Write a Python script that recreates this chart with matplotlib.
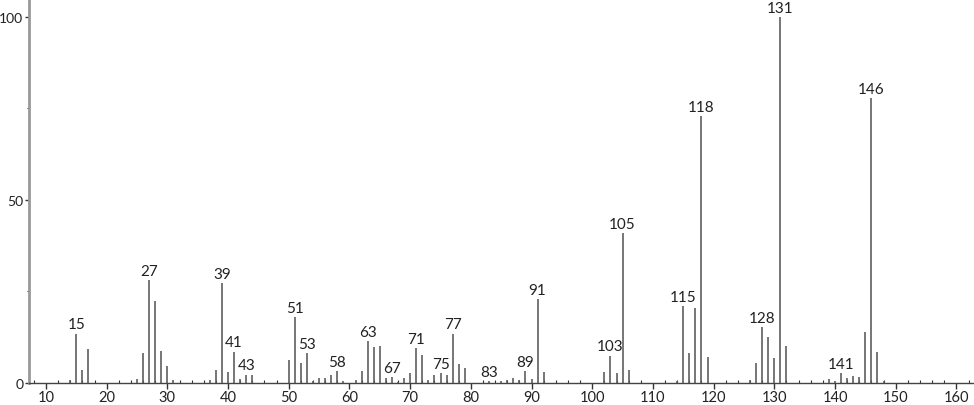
import matplotlib
matplotlib.use("Agg")
import matplotlib.pyplot as plt
from matplotlib.ticker import MultipleLocator

plt.rcParams['font.family'] = ['Lato', 'DejaVu Sans']

mz = [14, 15, 16, 17, 25, 26, 27, 28, 29, 30, 31, 37, 38, 39, 40, 41, 42, 43, 44,
      50, 51, 52, 53, 54, 55, 56, 57, 58, 59, 61, 62, 63, 64, 65, 66, 67, 68, 69, 70,
      71, 72, 73, 74, 75, 76, 77, 78, 79, 83, 85, 86, 87, 88, 89, 90, 91, 92,
      102, 103, 104, 105, 106, 114, 115, 116, 117, 118, 119,
      126, 127, 128, 129, 130, 131, 132, 139, 140, 141, 142, 143, 144, 145, 146, 147, 148]
intensity = [0.9, 13.5, 3.5, 9.2, 1.2, 8.2, 28.2, 22.3, 8.8, 4.7, 0.8, 0.9, 3.5, 27.2, 3.1, 8.6, 1.0, 2.3, 2.3,
             6.4, 17.9, 5.6, 8.2, 0.6, 1.5, 1.5, 2.3, 3.2, 0.5, 0.8, 3.4, 11.4, 9.7, 10.2, 1.5, 1.6, 0.4, 1.5, 2.6,
             9.5, 7.6, 0.9, 2.3, 2.6, 2.3, 13.5, 5.1, 4.2, 0.5, 0.6, 0.8, 1.5, 0.8, 3.3, 1.2, 22.9, 3.1,
             3.1, 7.5, 2.6, 41.0, 3.5, 0.5, 21.0, 8.2, 20.6, 73.0, 7.0,
             0.8, 5.6, 15.3, 12.7, 6.7, 100.0, 10.2, 1.2, 0.5, 2.6, 1.5, 1.8, 1.6, 13.8, 77.9, 8.6, 0.5]
labeled = [15, 27, 39, 41, 43, 51, 53, 58, 63, 67, 71, 75, 77, 83, 89, 91,
           103, 105, 115, 118, 128, 131, 141, 146]

fig = plt.figure(figsize=(9.74, 4.06), dpi=100)
ax = fig.add_axes([29/974, 22/406, 945/974, 384/406])

ax.vlines(mz, 0, intensity, color='#5f5f5f', lw=1.2)

lookup = dict(zip(mz, intensity))
for m in labeled:
    ax.annotate(str(m), (m, lookup[m]), xytext=(0, 1.5), textcoords='offset points',
                ha='center', va='bottom', fontsize=11, color='#222222')

ax.set_xlim(7.2, 162.9)
ax.set_ylim(0, 104.9)

ax.xaxis.set_major_locator(MultipleLocator(10))
ax.xaxis.set_minor_locator(MultipleLocator(2))
ax.yaxis.set_major_locator(MultipleLocator(50))
ax.yaxis.set_minor_locator(MultipleLocator(25))

ax.tick_params(axis='x', which='major', direction='out', length=4, width=1, color='#333333',
               labelsize=10.5, labelcolor='#222222', pad=1)
ax.tick_params(axis='x', which='minor', direction='in', length=2.5, width=0.8, color='#333333')
ax.tick_params(axis='y', which='major', direction='out', length=3, width=1, color='#333333',
               labelsize=10, labelcolor='#222222', pad=1)
ax.tick_params(axis='y', which='minor', direction='out', length=1.5, width=0.8, color='#333333')

for s in ['top', 'right']:
    ax.spines[s].set_visible(False)
ax.spines['left'].set_color('#999999')
ax.spines['left'].set_linewidth(2)
ax.spines['bottom'].set_color('#444444')
ax.spines['bottom'].set_linewidth(1)

fig.savefig('out.png', dpi=100)
